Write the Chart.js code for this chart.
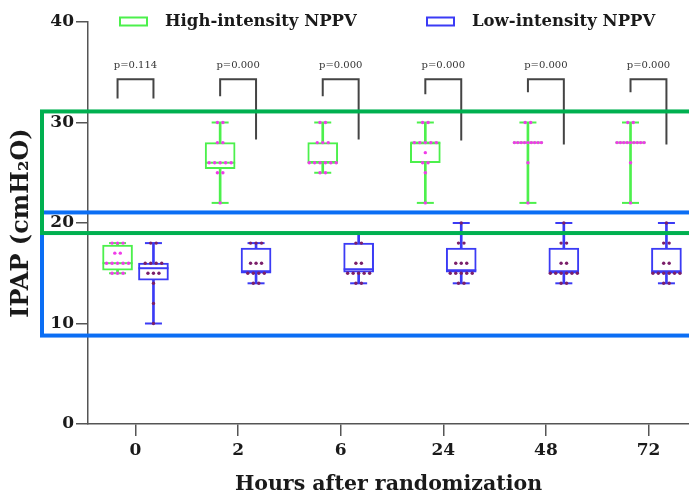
<!DOCTYPE html>
<html>
<head>
<meta charset="utf-8">
<script src="https://cdn.jsdelivr.net/npm/chart.js@4.4.1/dist/chart.umd.min.js"></script>
<style>
  html, body { margin: 0; padding: 0; background: #fff; overflow: hidden; }
  canvas { display: block; }
</style>
</head>
<body>
<canvas id="myChart" width="689" height="496"></canvas>
<script>
const hours = ['0', '2', '6', '24', '48', '72'];

// box stats
const highMin = [15, 22, 25, 22, 22, 22];
const highQ1 = [15.3, 25.4, 26, 26, 28, 28];
const highMedian = [16, 26, 26, 28, 28, 28];
const highQ3 = [17.8, 28, 28, 28, 28, 28];
const highMax = [18, 30, 30, 30, 30, 30];

const lowMin = [10, 14, 14, 14, 14, 14];
const lowQ1 = [14.3, 15, 15.1, 15.1, 15, 15];
const lowMedian = [15.5, 15.2, 15.4, 15.3, 15.2, 15.2];
const lowQ3 = [16, 17.5, 18, 17.5, 17.5, 17.5];
const lowMax = [18, 18, 19, 20, 20, 20];

// single patients
const highPoints = [
  [18, 18, 18, 17, 17, 16, 16, 16, 16, 16, 15, 15, 15],
  [30, 30, 28, 28, 26, 26, 26, 26, 26, 25, 25, 22],
  [30, 30, 28, 28, 28, 26, 26, 26, 26, 26, 26, 25, 25],
  [30, 30, 28, 28, 28, 28, 28, 27, 26, 26, 25, 22],
  [30, 30, 28, 28, 28, 28, 28, 28, 28, 28, 28, 26, 22],
  [30, 30, 28, 28, 28, 28, 28, 28, 28, 28, 28, 26, 22]
];
const lowPoints = [
  [18, 18, 16, 16, 16, 16, 15, 15, 15, 14, 12, 10],
  [18, 18, 18, 16, 16, 16, 15, 15, 15, 15, 14, 14],
  [19, 18, 18, 16, 16, 15, 15, 15, 15, 15, 14, 14],
  [20, 18, 18, 16, 16, 16, 15, 15, 15, 15, 15, 14, 14],
  [20, 18, 18, 16, 16, 15, 15, 15, 15, 15, 15, 14, 14],
  [20, 18, 18, 16, 16, 15, 15, 15, 15, 15, 15, 14, 14]
];

const pValues = ['p=0.114', 'p=0.000', 'p=0.000', 'p=0.000', 'p=0.000', 'p=0.000'];
const bracketTop = [34.3, 34.3, 34.3, 34.3, 34.3, 34.3];
const bracketHighLeg = [32.4, 32.6, 32.6, 32.8, 33.0, 33.0];
const bracketLowLeg = [32.4, 28.3, 28.3, 28.2, 27.8, 27.8];

// highlighted ranges (green = high, blue = low)
const highlightHigh = [19.0, 31.1];
const highlightLow = [8.8, 21.05];

const GREEN = '#4cf04c';
const BLUE = '#3b3bf5';
const FONT = 'DejaVu Serif';

const xMin = -0.463;
const xMax = 5.395;
const pxPerUnit = 102.6;
const highOff = -0.175;
const lowOff = 0.175;

const spread = (lists, off) => {
  const out = [];
  lists.forEach((vals, i) => {
    const counts = {};
    vals.forEach(v => { counts[v] = (counts[v] || 0) + 1; });
    Object.keys(counts).forEach(k => {
      const n = counts[k];
      const gap = n > 1 ? Math.min(5.5, 27 / (n - 1)) : 0;
      for (let j = 0; j < n; j++) {
        out.push({ x: i + off + ((j - (n - 1) / 2) * gap) / pxPerUnit, y: +k });
      }
    });
  });
  return out;
};

const whisker = (mins, maxs, off) => hours.map((h, i) => ({ x: i + off, y: [mins[i], maxs[i]] }));
const box = (q1, q3, off) => hours.map((h, i) => ({ x: i + off, y: [q1[i], q3[i]] }));
const single = (vals, off) => hours.map((h, i) => ({ x: i + off, y: vals[i] }));
const caps = (mins, maxs, off) => single(mins, off).concat(single(maxs, off));

const brackets = [];
hours.forEach((h, i) => {
  brackets.push({ x: i + highOff, y: bracketHighLeg[i] });
  brackets.push({ x: i + highOff, y: bracketTop[i] });
  brackets.push({ x: i + lowOff, y: bracketTop[i] });
  brackets.push({ x: i + lowOff, y: bracketLowLeg[i] });
  brackets.push({ x: i + 0.5, y: null });
});

const highlightPlugin = {
  id: 'highlight',
  afterDraw(chart) {
    const { ctx, scales: { y } } = chart;
    ctx.save();
    ctx.lineWidth = 4;
    ctx.strokeStyle = '#0b6ef4';
    let t = y.getPixelForValue(highlightLow[1]);
    let b = y.getPixelForValue(highlightLow[0]);
    ctx.strokeRect(42, t, 700, b - t);
    ctx.strokeStyle = '#00b050';
    t = y.getPixelForValue(highlightHigh[1]);
    b = y.getPixelForValue(highlightHigh[0]);
    ctx.strokeRect(42, t, 700, b - t);
    ctx.restore();
  }
};

const pLabelPlugin = {
  id: 'pLabels',
  afterDatasetsDraw(chart) {
    const { ctx, scales: { x, y } } = chart;
    ctx.save();
    ctx.font = '10px ' + FONT;
    ctx.fillStyle = '#333';
    ctx.textAlign = 'center';
    ctx.textBaseline = 'middle';
    pValues.forEach((p, i) => {
      ctx.fillText(p, x.getPixelForValue(i), y.getPixelForValue(bracketTop[i]) - 14);
    });
    ctx.restore();
  }
};

const legendPlugin = {
  id: 'boxLegend',
  afterDraw(chart) {
    const { ctx } = chart;
    const items = [
      { label: 'High-intensity NPPV', color: GREEN, x: 120 },
      { label: 'Low-intensity NPPV', color: BLUE, x: 427 }
    ];
    ctx.save();
    ctx.font = 'bold 16.5px ' + FONT;
    ctx.textBaseline = 'middle';
    ctx.fillStyle = '#1a1a1a';
    items.forEach(it => {
      ctx.lineWidth = 2;
      ctx.strokeStyle = it.color;
      ctx.strokeRect(it.x, 17.5, 27, 8);
      ctx.fillText(it.label, it.x + 45, 21.5);
    });
    ctx.restore();
  }
};

const tickFont = { family: FONT, size: 17, weight: 'bold' };

const ctx = document.getElementById('myChart').getContext('2d');
const chart = new Chart(ctx, {
  type: 'bar',
  data: {
    datasets: [
      { type: 'bar', label: 'hw', data: whisker(highMin, highMax, highOff), backgroundColor: GREEN, barThickness: 2, grouped: false, order: 6 },
      { type: 'bar', label: 'lw', data: whisker(lowMin, lowMax, lowOff), backgroundColor: BLUE, barThickness: 2, grouped: false, order: 6 },
      { type: 'bar', label: 'High-intensity NPPV', data: box(highQ1, highQ3, highOff), backgroundColor: '#fff', borderColor: GREEN, borderWidth: 2, borderSkipped: false, barThickness: 30, grouped: false, order: 5 },
      { type: 'bar', label: 'Low-intensity NPPV', data: box(lowQ1, lowQ3, lowOff), backgroundColor: '#fff', borderColor: BLUE, borderWidth: 2, borderSkipped: false, barThickness: 30, grouped: false, order: 5 },
      { type: 'scatter', label: 'hm', data: single(highMedian, highOff), pointStyle: 'line', pointRadius: 15, borderColor: GREEN, borderWidth: 2, order: 4 },
      { type: 'scatter', label: 'lm', data: single(lowMedian, lowOff), pointStyle: 'line', pointRadius: 15, borderColor: BLUE, borderWidth: 2, order: 4 },
      { type: 'scatter', label: 'hc', data: caps(highMin, highMax, highOff), pointStyle: 'line', pointRadius: 8.5, borderColor: GREEN, borderWidth: 2, order: 4 },
      { type: 'scatter', label: 'lc', data: caps(lowMin, lowMax, lowOff), pointStyle: 'line', pointRadius: 8.5, borderColor: BLUE, borderWidth: 2, order: 4 },
      { type: 'line', label: 'brackets', data: brackets, borderColor: '#444', borderWidth: 2, pointRadius: 0, spanGaps: false, order: 3 },
      { type: 'scatter', label: 'hp', data: spread(highPoints, highOff), pointRadius: 1.7, backgroundColor: '#f03ce8', borderWidth: 0, order: 1 },
      { type: 'scatter', label: 'lp', data: spread(lowPoints, lowOff), pointRadius: 1.7, backgroundColor: '#7b1f6a', borderWidth: 0, order: 1 }
    ]
  },
  options: {
    responsive: false,
    animation: false,
    layout: { autoPadding: false, padding: { top: 22, left: 0, right: 0, bottom: 0 } },
    plugins: {
      legend: { display: false },
      tooltip: { enabled: false }
    },
    scales: {
      x: {
        type: 'linear',
        min: xMin,
        max: xMax,
        offset: false,
        afterBuildTicks: s => { s.ticks = hours.map((h, i) => ({ value: i })); },
        afterFit: s => { s.height = 72; s.paddingLeft = 0; s.paddingRight = 0; },
        ticks: { callback: v => hours[v], font: tickFont, color: '#1a1a1a', padding: 4, autoSkip: false, maxRotation: 0 },
        grid: { offset: false, drawOnChartArea: false, drawTicks: true, tickLength: 12, color: '#555', lineWidth: 1.5 },
        border: { color: '#555', width: 1.5 },
        title: { display: true, text: 'Hours after randomization', font: { family: FONT, size: 20.5, weight: 'bold', lineHeight: 1.1 }, color: '#1a1a1a', padding: { top: 0, bottom: 0 } }
      },
      y: {
        min: 0,
        max: 40,
        afterFit: s => { s.width = 88; },
        ticks: { stepSize: 10, font: tickFont, color: '#1a1a1a', padding: 2 },
        grid: { drawOnChartArea: false, drawTicks: true, tickLength: 12, color: '#555', lineWidth: 1.5 },
        border: { color: '#555', width: 1.5 },
        title: { display: true, text: 'IPAP (cmH₂O)', font: { family: FONT, size: 24, weight: 'bold', lineHeight: 1.2 }, color: '#1a1a1a', padding: { top: 7, bottom: 0 } }
      }
    }
  },
  plugins: [highlightPlugin, pLabelPlugin, legendPlugin]
});
</script>
</body>
</html>
